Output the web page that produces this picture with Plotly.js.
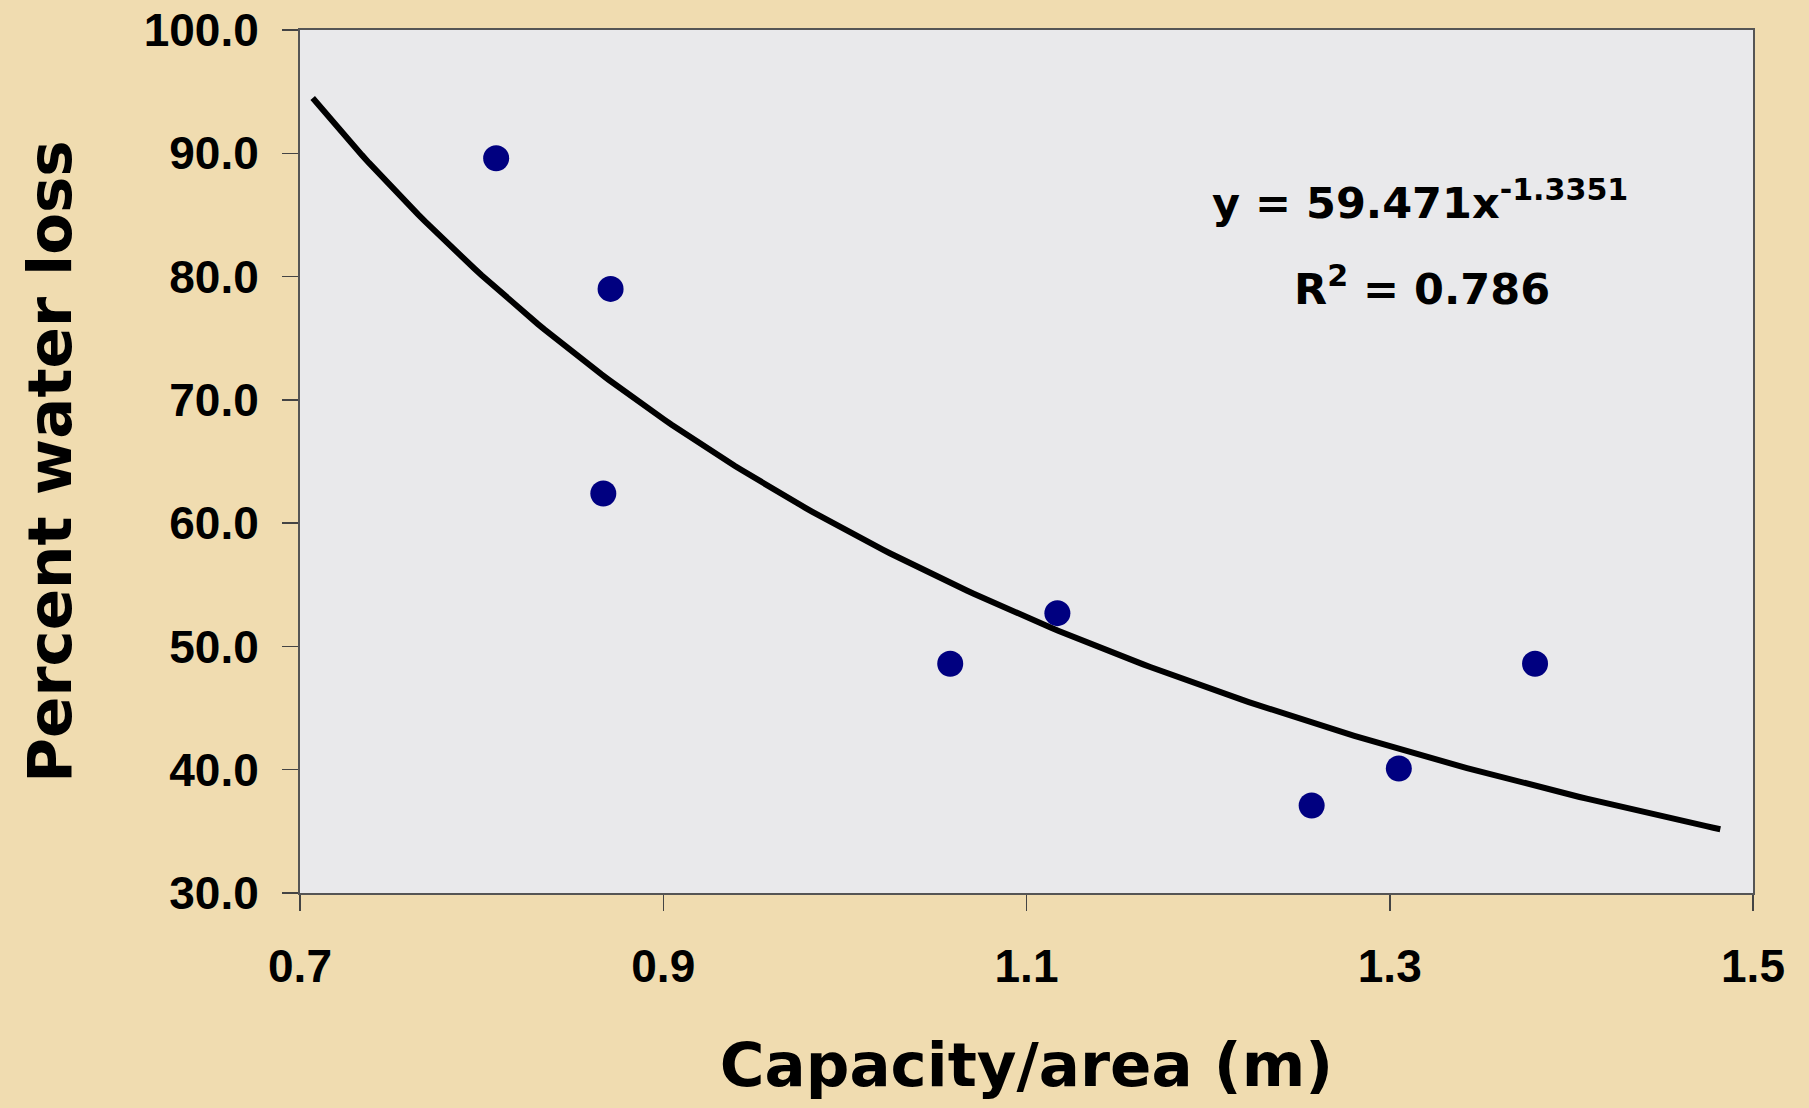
<!DOCTYPE html>
<html>
<head>
<meta charset="utf-8">
<script src="https://cdn.plot.ly/plotly-3.0.1.min.js"></script>
<style>
  html, body { margin: 0; padding: 0; background: #f0dcb0; }
  #chart { width: 1809px; height: 1108px; }
</style>
</head>
<body>
<div id="chart"></div>
<script>
// Observed data points
const capacityPerArea = [0.808, 0.871, 0.867, 1.058, 1.117, 1.257, 1.305, 1.380];
const percentWaterLoss = [89.6, 79.0, 62.4, 48.6, 52.7, 37.1, 40.1, 48.6];

// Power-law trendline as stated on the chart: y = 59.471 x^-1.3351
const fitCoef = 59.471;
const fitExp = -1.3351;
const fitR2 = 0.786;
const fitXStart = 0.707;
const fitXEnd = 1.482;

// Axis ticks
const xTicks = [0.7, 0.9, 1.1, 1.3, 1.5];
const xTickLabels = ["0.7", "0.9", "1.1", "1.3", "1.5"];
const yTicks = [30, 40, 50, 60, 70, 80, 90, 100];
const yTickLabels = ["30.0", "40.0", "50.0", "60.0", "70.0", "80.0", "90.0", "100.0"];

const fitX = [];
const fitY = [];
const nSteps = 200;
for (let i = 0; i <= nSteps; i++) {
  const x = fitXStart + (fitXEnd - fitXStart) * i / nSteps;
  fitX.push(x);
  fitY.push(fitCoef * Math.pow(x, fitExp));
}

const titleFont = 'Comic Sans MS, "DejaVu Sans", sans-serif';
const tickFont = '"Liberation Sans", Arial, sans-serif';

const traces = [
  {
    x: fitX, y: fitY, type: 'scatter', mode: 'lines',
    line: { color: '#000000', width: 6 },
    hoverinfo: 'skip', showlegend: false
  },
  {
    x: capacityPerArea, y: percentWaterLoss, type: 'scatter', mode: 'markers',
    marker: { color: '#000080', size: 26, line: { width: 0 } },
    showlegend: false
  }
];

const layout = {
  width: 1809, height: 1108,
  paper_bgcolor: '#f0dcb0',
  plot_bgcolor: '#e9e9eb',
  margin: { l: 300, r: 56, t: 30, b: 215, pad: 0 },
  showlegend: false,
  xaxis: {
    range: [0.7, 1.5],
    tickvals: xTicks, ticktext: xTickLabels,
    ticks: 'outside', ticklen: 16, tickwidth: 1.5, tickcolor: '#444',
    showline: true, linecolor: '#555', linewidth: 2, mirror: true,
    showgrid: false, zeroline: false,
    ticklabelstandoff: 16,
    tickfont: { family: tickFont, size: 46, color: '#000', weight: 'bold' },
    title: {
      text: '<b>Capacity/area (m)</b>',
      font: { family: titleFont, size: 61, color: '#000' },
      standoff: 52
    }
  },
  yaxis: {
    range: [30, 100],
    tickvals: yTicks, ticktext: yTickLabels,
    ticks: 'outside', ticklen: 16, tickwidth: 1.5, tickcolor: '#444',
    showline: true, linecolor: '#555', linewidth: 2, mirror: true,
    showgrid: false, zeroline: false,
    ticklabelstandoff: 14,
    tickfont: { family: tickFont, size: 46, color: '#000', weight: 'bold' },
    title: {
      text: '<b>Percent water loss</b>',
      font: { family: titleFont, size: 61, color: '#000' },
      standoff: 52
    }
  },
  annotations: [
    {
      xref: 'paper', yref: 'paper', x: 0.771, y: 0.803,
      xanchor: 'center', yanchor: 'middle', showarrow: false,
      text: '<b>y = ' + fitCoef.toFixed(3) + 'x<sup>' + fitExp.toFixed(4) + '</sup></b>',
      font: { family: titleFont, size: 43, color: '#000' }
    },
    {
      xref: 'paper', yref: 'paper', x: 0.772, y: 0.703,
      xanchor: 'center', yanchor: 'middle', showarrow: false,
      text: '<b>R<sup>2</sup> = ' + fitR2.toFixed(3) + '</b>',
      font: { family: titleFont, size: 43, color: '#000' }
    }
  ]
};

Plotly.newPlot('chart', traces, layout, { displayModeBar: false, staticPlot: true });
</script>
</body>
</html>
